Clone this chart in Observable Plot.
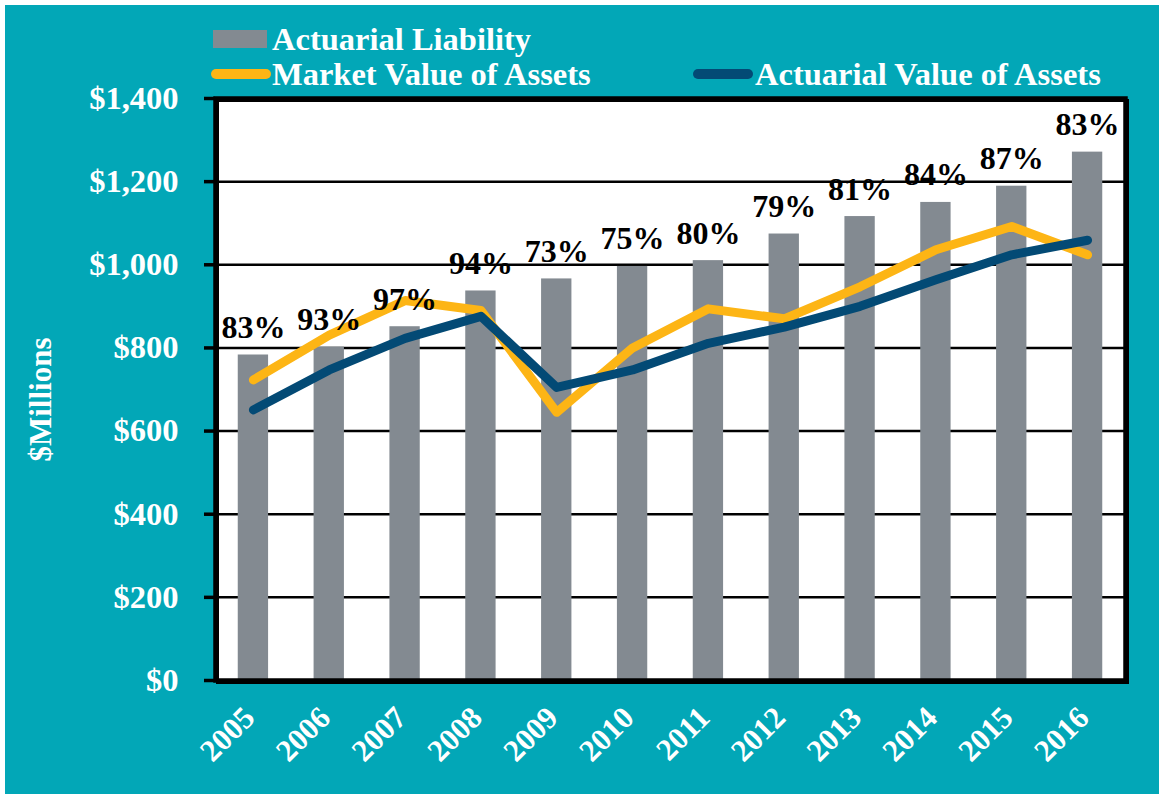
<!DOCTYPE html>
<html>
<head>
<meta charset="utf-8">
<script src="https://cdn.jsdelivr.net/npm/d3@7"></script>
<script src="https://cdn.jsdelivr.net/npm/@observablehq/plot@0.6"></script>
<style>
  html, body { margin: 0; padding: 0; background: #ffffff; }
  #page { position: absolute; left: 5px; top: 5px; width: 1154px; height: 789px; background: #02A7B7; overflow: hidden; }
  #chart { position: absolute; left: -5px; top: -5px; }
  .leg { position: absolute; font-family: "Liberation Serif", "Times New Roman", serif; font-weight: bold; font-size: 32.5px; color: #ffffff; white-space: nowrap; line-height: 1; }
  .sw { position: absolute; }
</style>
</head>
<body>
<div id="page">
  <div id="chart"></div>
  <div id="legend"></div>
</div>
<script>
const years = ["2005","2006","2007","2008","2009","2010","2011","2012","2013","2014","2015","2016"];
const liability = [783, 802, 851, 937, 966, 996, 1010, 1074, 1116, 1150, 1189, 1271];
const marketValue = [723, 831, 914, 890, 645, 800, 894, 870, 947, 1036, 1092, 1024];
const actuarialValue = [651, 747, 823, 876, 705, 747, 811, 850, 900, 964, 1024, 1059];
const fundedLabels = ["83%","93%","97%","94%","73%","75%","80%","79%","81%","84%","87%","83%"];
const yTicks = [0, 200, 400, 600, 800, 1000, 1200, 1400];
const seriesNames = ["Actuarial Liability", "Market Value of Assets", "Actuarial Value of Assets"];
const colors = { bar: "#838A91", market: "#FDB515", actuarial: "#034A75", bg: "#02A7B7" };

const rows = years.map((y, i) => ({
  year: y, liability: liability[i], market: marketValue[i], actuarial: actuarialValue[i], label: fundedLabels[i]
}));

const font = "Liberation Serif, Times New Roman, serif";

const chart = Plot.plot({
  width: 1159,
  height: 794,
  marginLeft: 215,
  marginRight: 34,
  marginTop: 98,
  marginBottom: 114,
  style: { background: "transparent", fontFamily: font, fontWeight: "bold", fontSize: "32px" },
  x: { type: "band", domain: years, paddingInner: 0.6, paddingOuter: 0.3, round: false, axis: null },
  y: { domain: [0, 1400], axis: null },
  marks: [
    Plot.frame({ fill: "#ffffff", stroke: null }),
    Plot.gridY(yTicks, { stroke: "#000000", strokeOpacity: 1, strokeWidth: 2.5 }),
    Plot.barY(rows, { x: "year", y: "liability", fill: colors.bar }),
    Plot.line(rows, { x: "year", y: "market", stroke: colors.market, strokeWidth: 9, strokeLinecap: "round", strokeLinejoin: "round" }),
    Plot.line(rows, { x: "year", y: "actuarial", stroke: colors.actuarial, strokeWidth: 9, strokeLinecap: "round", strokeLinejoin: "round" }),
    Plot.text(rows, { x: "year", y: "liability", text: "label", lineAnchor: "bottom", dy: -17, fill: "#000000", fontSize: 32, fontWeight: "bold", fontFamily: font }),
    Plot.frame({ stroke: "#000000", strokeWidth: 3, dx: 2, dy: 2 }),
    Plot.frame({ stroke: "#000000", strokeWidth: 4.5 }),
    Plot.axisY(yTicks, { anchor: "left", tickSize: 11, tickPadding: 26, stroke: "#000000", strokeWidth: 3.5, fill: "#ffffff",
      tickFormat: d => "$" + d3.format(",")(d), fontSize: 32.5, fontWeight: "bold", fontFamily: font, label: null }),
    Plot.text(years, { x: d => d, frameAnchor: "bottom", text: d => d, rotate: -45, textAnchor: "end", lineAnchor: "middle",
      dx: -4, dy: 32, fill: "#ffffff", fontSize: 31, fontWeight: "bold", fontFamily: font }),
    Plot.text(["$Millions"], { frameAnchor: "left", text: d => d, rotate: -90, dx: -174, dy: 72, fill: "#ffffff",
      fontSize: 31, fontWeight: "bold", fontFamily: font })
  ]
});
document.getElementById("chart").appendChild(chart);

// Legend (HTML, above the plot area); page div is offset by 5px
const legend = document.getElementById("legend");
function add(html) { legend.insertAdjacentHTML("beforeend", html); }
add(`<div class="sw" style="left:${213-5}px; top:${30-5}px; width:54px; height:18px; background:${colors.bar};"></div>`);
add(`<div class="leg" style="left:${272-5}px; top:${23-5}px;">${seriesNames[0]}</div>`);
add(`<div class="sw" style="left:${211-5}px; top:${69-5}px; width:60px; height:10px; border-radius:5px; background:${colors.market};"></div>`);
add(`<div class="leg" style="left:${272-5}px; top:${58-5}px;">${seriesNames[1]}</div>`);
add(`<div class="sw" style="left:${693-5}px; top:${69-5}px; width:60px; height:10px; border-radius:5px; background:${colors.actuarial};"></div>`);
add(`<div class="leg" style="left:${755-5}px; top:${58-5}px;">${seriesNames[2]}</div>`);
</script>
</body>
</html>
